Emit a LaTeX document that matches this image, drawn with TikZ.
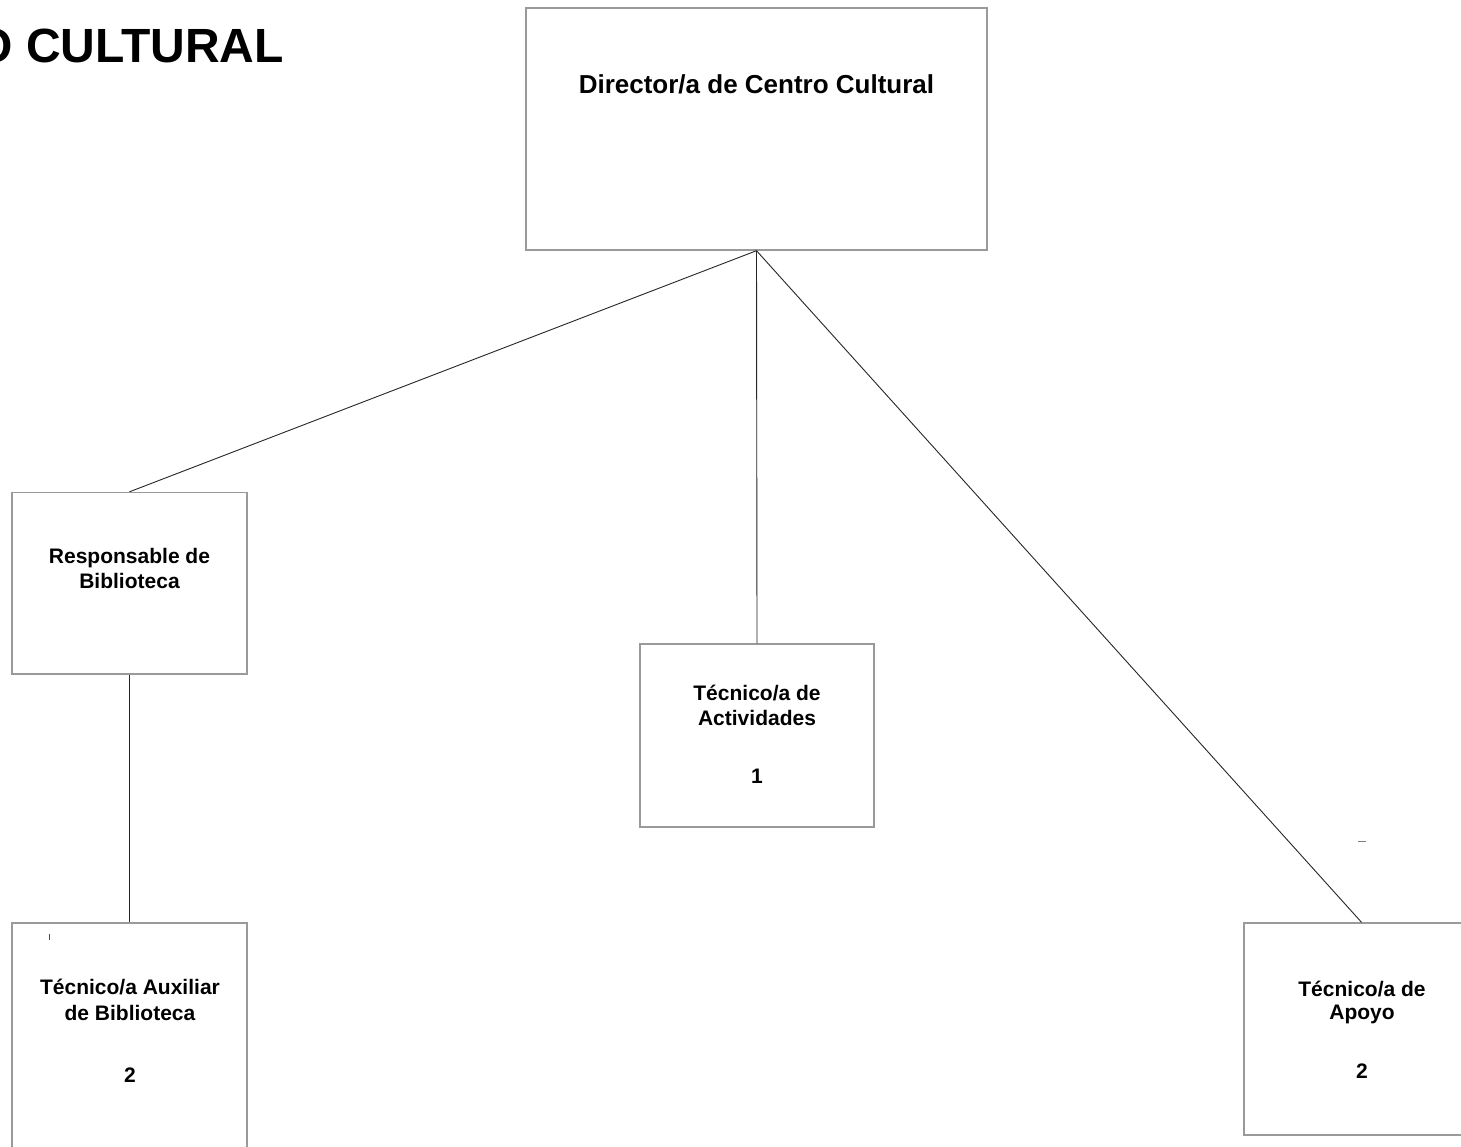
\documentclass[tikz,border=0pt]{standalone}
\usepackage{fontspec}
\setmainfont{Liberation Sans}
\definecolor{boxgray}{HTML}{9A9A9A}
\begin{document}
\begin{tikzpicture}[x=1pt,y=-1pt,
  box/.style={draw=boxgray, line width=1.4pt, rectangle, inner sep=0pt, fill=none},
  conn/.style={draw=black!85, line width=0.9pt},
  lbl/.style={anchor=base, inner sep=0pt, font=\fontsize{21}{26}\selectfont\bfseries},
  biglbl/.style={anchor=base, inner sep=0pt, font=\fontsize{26}{30}\selectfont\bfseries},
  straymark/.style={draw=black!70, line width=0.9pt}]
\useasboundingbox (0,0) rectangle (1461,1147);
\fill[white] (0,0) rectangle (1461,1147);

% title (clipped at the left edge)
\node[anchor=base east, inner sep=0pt, font=\fontsize{48}{48}\selectfont\bfseries] (title) at (284,63) {O CULTURAL};

% boxes
\node[box, minimum width=461pt, minimum height=242pt] (dir) at (756.5,129) {};
\node[box, minimum width=235pt, minimum height=181.5pt] (resp) at (129.5,583.25) {};
\node[box, minimum width=234pt, minimum height=183pt] (act) at (757,735.5) {};
\node[box, minimum width=235pt, minimum height=237pt] (aux) at (129.5,1041.5) {};
\node[box, minimum width=235pt, minimum height=212pt] (apo) at (1361.5,1029) {};

% texts
\node[biglbl] (tdir) at (756.5,94) {Director/a de Centro Cultural};

\node[lbl] (tresp1) at (129.5,563) {Responsable de};
\node[lbl] (tresp2) at (129.5,588) {Biblioteca};

\node[lbl] (tact1) at (757,700.5) {Técnico/a de};
\node[lbl] (tact2) at (757,725.5) {Actividades};
\node[lbl] (tact3) at (757,783) {1};

\node[lbl] (taux1) at (130,994) {Técnico/a Auxiliar};
\node[lbl] (taux2) at (130,1020) {de Biblioteca};
\node[lbl] (taux3) at (130,1082) {2};

\node[lbl] (tapo1) at (1362,996.5) {Técnico/a de};
\node[lbl] (tapo2) at (1362,1019) {Apoyo};
\node[lbl] (tapo3) at (1362,1078) {2};

% connectors
\draw[conn] (dir.south) -- (resp.north);
\draw[conn] (dir.south) -- (act.north);
\draw[conn] (dir.south) -- (apo.north);
\draw[conn] (resp.south) -- (aux.north);

% stray marks
\coordinate (m1a) at (1358,841);
\coordinate (m1b) at (1366,841);
\draw[straymark, draw=black!50] (m1a) -- (m1b);
\coordinate (m2a) at (49.3,934);
\coordinate (m2b) at (49.3,940);
\draw[straymark] (m2a) -- (m2b);
\end{tikzpicture}
\end{document}
